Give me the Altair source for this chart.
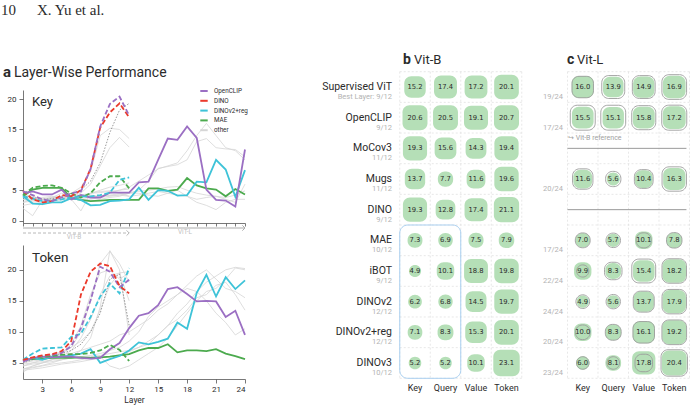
import altair as alt
import pandas as pd

SANS = "Roboto"
NUM_FONT = "DejaVu Sans"
SERIF = "Liberation Serif"
INK = "#2b2b2b"
MUTED = "#b3b3b3"
CELL_FILL = "#b5dfb7"

GROUPS = ["OpenCLIP", "DINO", "DINOv2+reg", "MAE", "other"]
GROUP_COLORS = ["#9b6fc3", "#eb3a2c", "#3ec3d8", "#4caa4e", "#d6d6d6"]

# ---------------- layer-wise curves: Key ----------------
# ViT-B, layers 1-12
key_b_openclip = [4.8, 4.2, 3.5, 3.2, 3.8, 4.5, 4.8, 8.5, 15.5, 19.2, 20.4, 17.3]
key_b_dino = [4.9, 3.5, 3.0, 3.2, 4.2, 4.0, 5.0, 8.5, 15.3, 17.8, 19.3, 17.0]
key_b_dinov2reg = [4.0, 3.6, 3.2, 3.3, 3.5, 3.8, 4.0, 4.0, 4.2, 4.6, 6.7, 7.1]
key_b_mae = [4.2, 5.4, 5.7, 5.8, 5.4, 4.5, 3.8, 4.5, 6.3, 7.3, 7.3, 5.3]
key_b_mocov3 = [4.0, 3.8, 3.5, 3.6, 4.0, 4.5, 5.0, 6.5, 9.5, 14.5, 18.2, 19.3]
key_b_supervised = [2.0, 0.8, 3.3, 3.8, 4.0, 4.5, 5.5, 8.0, 14.0, 15.2, 15.0, 13.5]
key_b_mugs = [3.5, 3.0, 2.6, 3.2, 3.8, 4.0, 4.5, 6.0, 9.0, 12.0, 13.7, 12.1]
key_b_ibot = [3.0, 3.5, 3.8, 4.0, 3.8, 3.5, 1.6, 4.5, 4.8, 4.9, 4.5, 4.0]
key_b_dinov2 = [3.8, 3.5, 3.3, 3.5, 3.8, 3.6, 3.9, 4.5, 5.0, 5.5, 5.8, 6.2]
key_b_dinov3 = [4.2, 4.0, 3.5, 3.8, 4.5, 4.0, 4.2, 4.5, 4.6, 4.8, 5.0, 5.2]
# ViT-L, layers 1-24
key_l_openclip = [4.5, 4.8, 4.3, 4.3, 5.1, 3.5, 4.2, 3.8, 3.8, 4.6, 4.6, 4.6,
                  6.3, 6.4, 10.0, 13.5, 13.3, 15.5, 13.6, 5.1, 3.4, 3.3, 2.3, 11.7]
key_l_dinov2reg = [4.0, 2.8, 2.7, 3.0, 3.0, 3.7, 3.4, 2.5, 2.6, 3.2, 3.3, 3.5,
                   5.4, 3.4, 5.0, 4.9, 4.1, 4.2, 6.4, 6.3, 10.0, 8.4, 3.9, 8.3]
key_l_mae = [4.0, 5.1, 5.4, 5.4, 5.4, 3.7, 3.4, 3.2, 3.3, 3.4, 3.4, 3.4,
             3.4, 5.3, 5.3, 4.9, 5.1, 7.0, 5.8, 5.3, 5.1, 4.0, 5.2, 4.3]
key_l_supervised = [4.0, 3.8, 3.6, 3.8, 4.0, 4.2, 4.0, 3.8, 4.0, 4.5, 5.0, 5.5,
                    6.5, 7.5, 8.5, 9.0, 9.5, 11.5, 14.0, 16.0, 14.0, 12.0, 11.5, 10.0]
key_l_mugs = [3.5, 3.3, 3.0, 3.2, 3.5, 3.8, 3.5, 3.2, 3.5, 3.8, 4.0, 4.5,
              5.0, 6.5, 8.6, 8.9, 9.2, 10.0, 13.0, 13.5, 12.0, 11.8, 11.7, 10.5]
key_l_ibot = [2.5, 2.8, 3.0, 3.2, 3.4, 3.5, 3.6, 3.5, 3.8, 4.0, 4.2, 4.5,
              4.5, 4.2, 4.0, 4.5, 5.0, 4.0, 3.0, 2.5, 1.8, 3.0, 3.5, 3.5]
key_l_dinov2 = [3.0, 3.2, 3.5, 3.4, 3.6, 3.8, 4.0, 4.2, 4.0, 4.2, 4.4, 4.6,
                4.8, 5.0, 5.2, 5.5, 5.6, 5.0, 4.5, 4.2, 4.0, 3.8, 4.2, 4.9]
key_l_dinov3 = [3.8, 3.5, 3.4, 3.6, 3.8, 4.0, 3.8, 3.9, 4.0, 4.1, 4.2, 4.0,
                4.2, 4.5, 4.8, 4.5, 4.2, 4.0, 3.5, 3.8, 4.0, 3.5, 3.0, 6.0]

# ---------------- layer-wise curves: Token ----------------
tok_b_openclip = [5.3, 5.8, 6.1, 6.3, 6.6, 7.7, 10.6, 15.1, 20.5, 19.7, 17.2, 18.4]
tok_b_dino = [5.5, 5.9, 6.2, 6.4, 6.9, 8.5, 16.0, 19.7, 21.0, 20.6, 17.4, 16.2]
tok_b_dinov2reg = [5.5, 6.5, 7.3, 7.4, 7.5, 9.2, 9.7, 12.4, 15.7, 17.8, 16.2, 20.3]
tok_b_mae = [5.5, 5.8, 6.0, 6.1, 6.3, 6.4, 6.4, 6.6, 7.0, 7.9, 7.1, 5.3]
tok_b_mocov3 = [5.0, 5.5, 6.0, 6.2, 6.5, 7.0, 8.0, 10.0, 13.0, 18.5, 19.3, 11.0]
tok_b_supervised = [4.5, 5.0, 5.5, 6.0, 6.5, 7.5, 10.0, 15.0, 21.0, 23.0, 21.0, 18.0]
tok_b_mugs = [4.0, 4.5, 5.0, 5.5, 6.0, 7.0, 9.0, 12.0, 16.0, 19.0, 19.5, 15.0]
tok_b_ibot = [3.5, 4.5, 5.0, 5.5, 6.5, 8.0, 11.0, 16.0, 19.5, 20.0, 18.5, 19.5]
tok_b_dinov2 = [5.5, 5.8, 6.0, 6.3, 6.8, 7.5, 8.5, 10.0, 13.5, 17.5, 19.5, 19.7]
tok_b_dinov3 = [4.0, 4.3, 4.6, 5.0, 5.5, 6.0, 7.0, 9.0, 14.0, 23.1, 20.0, 9.5]
tok_l_openclip = [5.2, 5.8, 6.0, 5.9, 6.0, 6.0, 5.8, 5.7, 5.8, 7.2, 8.2, 10.6,
                  12.6, 13.0, 14.3, 16.9, 17.2, 16.1, 14.9, 15.0, 14.9, 12.4, 13.4, 9.5]
tok_l_dinov2reg = [5.3, 5.8, 5.5, 6.0, 6.0, 6.2, 6.5, 7.2, 5.0, 5.6, 6.1, 7.0,
                   8.3, 8.0, 8.4, 8.9, 11.5, 10.5, 16.3, 19.2, 15.7, 18.8, 16.9, 18.3]
tok_l_mae = [5.5, 5.6, 5.7, 5.8, 5.8, 5.8, 5.9, 5.8, 5.9, 6.0, 6.2, 6.4,
             7.0, 7.4, 7.4, 8.0, 6.7, 7.0, 7.0, 6.9, 7.2, 6.5, 6.1, 5.6]
tok_l_supervised = [4.5, 4.8, 5.0, 5.2, 5.5, 5.8, 6.0, 6.2, 6.5, 7.0, 7.5, 8.5,
                    10.0, 12.5, 14.0, 15.0, 16.0, 17.5, 19.0, 20.0, 18.5, 17.0, 16.5, 15.5]
tok_l_mugs = [4.0, 4.2, 4.5, 4.8, 5.0, 5.2, 5.5, 5.8, 6.0, 4.5, 4.0, 4.5,
              5.5, 6.5, 7.5, 9.0, 11.0, 13.0, 15.0, 16.5, 17.0, 18.5, 20.3, 20.0]
tok_l_ibot = [5.0, 5.3, 5.5, 5.8, 6.0, 6.5, 7.0, 7.5, 8.0, 8.5, 9.5, 10.0,
              11.0, 12.0, 13.5, 14.5, 16.0, 17.0, 16.5, 15.0, 13.0, 11.5, 9.5, 10.5]
tok_l_dinov2 = [4.8, 5.0, 5.2, 5.5, 5.5, 5.8, 6.0, 6.0, 6.2, 6.5, 6.8, 7.0,
                7.5, 8.5, 9.5, 11.0, 12.0, 13.5, 15.5, 16.0, 17.5, 18.0, 16.0, 13.5]
tok_l_dinov3 = [3.8, 4.0, 4.2, 4.5, 4.8, 5.0, 5.2, 5.5, 5.8, 6.0, 6.3, 6.8,
                7.5, 8.0, 9.5, 11.0, 13.0, 14.5, 16.5, 18.0, 19.0, 20.0, 20.4, 20.2]

# ---------------- best-layer scores ----------------
models = ["Supervised ViT", "OpenCLIP", "MoCov3", "Mugs", "DINO",
          "MAE", "iBOT", "DINOv2", "DINOv2+reg", "DINOv3"]
best_b = ["Best Layer: 9/12", "9/12", "11/12", "11/12", "9/12",
          "10/12", "9/12", "12/12", "12/12", "10/12"]
best_l = ["19/24", "17/24", None, "20/24", None,
          "17/24", "22/24", "24/24", "20/24", "23/24"]
metrics = ["Key", "Query", "Value", "Token"]
vitb_scores = [
    [15.2, 17.4, 17.2, 20.1], [20.6, 20.5, 19.1, 20.7], [19.3, 15.6, 14.3, 19.4],
    [13.7, 7.7, 11.6, 19.6], [19.3, 12.8, 17.4, 21.1], [7.3, 6.9, 7.5, 7.9],
    [4.9, 10.1, 18.8, 19.8], [6.2, 6.8, 14.5, 19.7], [7.1, 8.3, 15.3, 20.1],
    [5.2, 5.2, 10.1, 23.1],
]
vitl_scores = [
    [16.0, 13.9, 14.9, 16.9], [15.5, 15.1, 15.8, 17.2], None,
    [11.6, 5.6, 10.4, 16.3], None, [7.0, 5.7, 10.1, 7.8],
    [9.9, 8.3, 15.4, 18.2], [4.9, 5.6, 13.7, 17.9], [10.0, 8.3, 16.1, 19.2],
    [6.0, 8.1, 17.8, 20.4],
]
b_cols = [0, 1, 2, 3]
c_cols = [5.5, 6.5, 7.5, 8.5]
arch_layers = {"ViT-B": 12, "ViT-L": 24}


def curves(arch, pairs):
    rows = []
    for model, values in pairs:
        group = model if model in GROUPS else "other"
        for layer, v in enumerate(values, start=1):
            rows.append(dict(layer=layer, value=v, model=model,
                             series=f"{model} {arch}", group=group))
    return pd.DataFrame(rows)


COLOR_SCALE = alt.Scale(domain=GROUPS, range=GROUP_COLORS)
LEGEND = alt.Legend(title=None, orient="none", legendX=199, legendY=86,
                    symbolType="stroke", symbolStrokeWidth=2, symbolSize=55,
                    labelFontSize=6.3, labelFont=SANS, labelColor=INK,
                    rowPadding=0.8, labelOffset=5, padding=0)


def label(text, x, y, size, color=INK, font=SANS, weight="normal",
          align="left", baseline="alphabetic"):
    return alt.Chart(pd.DataFrame({"t": [text]})).mark_text(
        font=font, fontSize=size, fontWeight=weight, color=color,
        align=align, baseline=baseline,
    ).encode(text="t:N", x=alt.value(x), y=alt.value(y))


def curve_panel(x_scale, x_axis, y_scale, y_axis, hi_b, hi_l, other, dotted, extras):
    def X(f):
        return alt.X(f, type="quantitative", scale=x_scale, axis=x_axis)
    Y = alt.Y("value:Q", scale=y_scale, axis=y_axis)
    C = alt.Color("group:N", scale=COLOR_SCALE, legend=LEGEND)
    thin = alt.Chart(other).mark_line(strokeWidth=0.8).encode(
        x=X("layer"), y=Y, color=C, detail="series:N")
    dot = alt.Chart(dotted).mark_line(strokeWidth=0.9, strokeDash=[1.5, 1.5],
                                      color="#8c8c8c").encode(
        x=X("layer"), y=Y, detail="series:N")
    solid = alt.Chart(hi_l).mark_line(strokeWidth=1.8).encode(
        x=X("layer"), y=Y, color=C, detail="series:N")
    dashed = alt.Chart(hi_b).mark_line(strokeWidth=1.8, strokeDash=[5, 2.5]).encode(
        x=X("layer"), y=Y, color=C, detail="series:N")
    return alt.layer(thin, dot, solid, dashed, *[e(X) for e in extras])


# ---------------- panel a: Key ----------------
KEY_X = alt.Scale(domain=[1, 24], range=[23, 245], nice=False, zero=False)
KEY_X_AXIS = alt.Axis(orient="bottom", offset=-186, values=list(range(1, 25)),
                      labels=False, tickSize=3, title=None, grid=False)
KEY_Y = alt.Scale(domain=[-0.4, 21.5], range=[223, 90], nice=False, zero=False)
KEY_Y_AXIS = alt.Axis(orient="left", offset=-23, values=[0, 5, 10, 15, 20],
                      tickSize=4, labelPadding=3, title=None, grid=False)

key_other = pd.concat([
    curves("ViT-B", [("Supervised ViT", key_b_supervised), ("Mugs", key_b_mugs),
                     ("iBOT", key_b_ibot), ("DINOv2", key_b_dinov2), ("DINOv3", key_b_dinov3)]),
    curves("ViT-L", [("Supervised ViT", key_l_supervised), ("Mugs", key_l_mugs),
                     ("iBOT", key_l_ibot), ("DINOv2", key_l_dinov2), ("DINOv3", key_l_dinov3)]),
])
key_dotted = curves("ViT-B", [("MoCov3", key_b_mocov3)])
key_hi_b = curves("ViT-B", [("MAE", key_b_mae), ("DINOv2+reg", key_b_dinov2reg),
                            ("DINO", key_b_dino), ("OpenCLIP", key_b_openclip)])
key_hi_l = curves("ViT-L", [("MAE", key_l_mae), ("DINOv2+reg", key_l_dinov2reg),
                            ("OpenCLIP", key_l_openclip)])

spans = pd.DataFrame({"arch": list(arch_layers), "first": 1,
                      "last": list(arch_layers.values())})


def arrow_l(X):
    d = spans[spans.arch == "ViT-L"]
    line = alt.Chart(d).mark_rule(color="#ababab", strokeWidth=1).encode(
        x=X("first"), x2="last:Q", y=alt.value(228))
    head = alt.Chart(d).mark_point(shape="M-1,-1L0,0L-1,1", filled=False, size=28,
                                   color="#ababab", strokeWidth=1, opacity=1).encode(
        x=X("last"), y=alt.value(228))
    return alt.layer(line, head)


def arrow_b(X):
    d = spans[spans.arch == "ViT-B"]
    line = alt.Chart(d).mark_rule(color="#b8b8b8", strokeWidth=1, strokeDash=[3, 2]).encode(
        x=X("first"), x2="last:Q", y=alt.value(233))
    head = alt.Chart(d).mark_point(shape="M-1,-1L0,0L-1,1", filled=False, size=28,
                                   color="#b8b8b8", strokeWidth=1, opacity=1).encode(
        x=X("last"), y=alt.value(233))
    return alt.layer(line, head)


key_panel = curve_panel(KEY_X, KEY_X_AXIS, KEY_Y, KEY_Y_AXIS,
                        key_hi_b, key_hi_l, key_other, key_dotted, [arrow_l, arrow_b])

# ---------------- panel a: Token ----------------
TOK_X = alt.Scale(domain=[1, 24], range=[23, 245], nice=False, zero=False)
TOK_X_AXIS = alt.Axis(orient="bottom", offset=-30, values=list(range(3, 25, 3)),
                      tickSize=4, labelPadding=2, title="Layer", titlePadding=2,
                      titleFontSize=8.5, titleFontWeight="normal", grid=False)
TOK_Y = alt.Scale(domain=[2.4, 24], range=[379, 245], nice=False, zero=False)
TOK_Y_AXIS = alt.Axis(orient="left", offset=-23, values=[5, 10, 15, 20],
                      tickSize=4, labelPadding=3, title=None, grid=False)

tok_other = pd.concat([
    curves("ViT-B", [("Supervised ViT", tok_b_supervised), ("Mugs", tok_b_mugs),
                     ("iBOT", tok_b_ibot), ("DINOv2", tok_b_dinov2), ("DINOv3", tok_b_dinov3)]),
    curves("ViT-L", [("Supervised ViT", tok_l_supervised), ("Mugs", tok_l_mugs),
                     ("iBOT", tok_l_ibot), ("DINOv2", tok_l_dinov2), ("DINOv3", tok_l_dinov3)]),
])
tok_dotted = curves("ViT-B", [("MoCov3", tok_b_mocov3)])
tok_hi_b = curves("ViT-B", [("MAE", tok_b_mae), ("DINOv2+reg", tok_b_dinov2reg),
                            ("OpenCLIP", tok_b_openclip), ("DINO", tok_b_dino)])
tok_hi_l = curves("ViT-L", [("MAE", tok_l_mae), ("DINOv2+reg", tok_l_dinov2reg),
                            ("OpenCLIP", tok_l_openclip)])

token_panel = curve_panel(TOK_X, TOK_X_AXIS, TOK_Y, TOK_Y_AXIS,
                          tok_hi_b, tok_hi_l, tok_other, tok_dotted, [])

# ---------------- panels b and c: score tables ----------------
BC_X = alt.Scale(domain=[-0.5, 9.0], range=[399.75, 689.5], nice=False, zero=False)
BC_Y = alt.Scale(domain=[-0.5, 9.5], range=[71.7, 378.3], nice=False, zero=False)


def BX(f):
    return alt.X(f, type="quantitative", scale=BC_X, axis=None)


def BY(f):
    return alt.Y(f, type="quantitative", scale=BC_Y, axis=None)


cells_b, cells_c = [], []
for r, m in enumerate(models):
    for j, met in enumerate(metrics):
        cells_b.append(dict(model=m, row=r, metric=met, col=b_cols[j], value=vitb_scores[r][j]))
        if vitl_scores[r] is not None:
            cells_c.append(dict(model=m, row=r, metric=met, col=c_cols[j],
                                value=vitl_scores[r][j], ref=vitb_scores[r][j]))
cells_b = pd.DataFrame(cells_b)
cells_c = pd.DataFrame(cells_c)

# square side grows with sqrt(score); 5.5 px per sqrt-unit, cell pitch ~30.6 px
KX = 5.5 / 2 / 30.5
KY = 5.5 / 2 / 30.66


def boxes(df, field, **mark):
    return alt.Chart(df).transform_calculate(
        x0=f"datum.col - {KX}*sqrt(datum.{field})",
        x1=f"datum.col + {KX}*sqrt(datum.{field})",
        y0=f"datum.row - {KY}*sqrt(datum.{field})",
        y1=f"datum.row + {KY}*sqrt(datum.{field})",
    ).mark_rect(cornerRadius=7, **mark).encode(
        x=BX("x0"), x2="x1:Q", y=BY("y0"), y2="y1:Q")


def values_text(df):
    return alt.Chart(df).mark_text(font=NUM_FONT, fontSize=6.8, color=INK).encode(
        x=BX("col"), y=BY("row"), text=alt.Text("value:Q", format=".1f"))


n = len(models)
v_lines = [c - 0.5 for c in b_cols] + [b_cols[-1] + 0.5] + \
          [c - 0.5 for c in c_cols] + [c_cols[-1] + 0.5]
grid_v = pd.DataFrame({"bx": v_lines, "top": -0.5, "bottom": n - 0.5})
grid_h = pd.DataFrame(
    [dict(by=r - 0.5, left=b_cols[0] - 0.5, right=b_cols[-1] + 0.5) for r in range(n + 1)] +
    [dict(by=r - 0.5, left=c_cols[0] - 0.5, right=c_cols[-1] + 0.5) for r in range(n + 1)])
grid = alt.layer(
    alt.Chart(grid_v).mark_rule(color="#dedede", strokeWidth=0.7, strokeDash=[2, 2]).encode(
        x=BX("bx"), y=BY("top"), y2="bottom:Q"),
    alt.Chart(grid_h).mark_rule(color="#dedede", strokeWidth=0.7, strokeDash=[2, 2]).encode(
        y=BY("by"), x=BX("left"), x2="right:Q"),
)

highlight = alt.Chart(pd.DataFrame({
    "left": [b_cols[0] - 0.5], "right": [b_cols[1] + 0.5],
    "top": [models.index("MAE") - 0.5], "bottom": [n - 0.5]})
).mark_rect(fillOpacity=0, stroke="#a9cff0", strokeWidth=1, cornerRadius=8).encode(
    x=BX("left"), x2="right:Q", y=BY("top"), y2="bottom:Q")

missing = pd.DataFrame([dict(row=r, left=c_cols[0] - 0.5, right=c_cols[-1] + 0.4)
                        for r, s in enumerate(vitl_scores) if s is None])
missing_rules = alt.Chart(missing).mark_rule(color="#9a9a9a", strokeWidth=1).encode(
    y=BY("row"), x=BX("left"), x2="right:Q")

row_info = pd.DataFrame({"model": models, "row": range(n), "best_b": best_b,
                         "best_l": [b if b else "" for b in best_l]})
names = alt.Chart(row_info).mark_text(align="right", baseline="middle", font=SANS,
                                      fontSize=10.5, color=INK).encode(
    x=alt.value(392), y=BY("row"), text="model:N")
names_sub = alt.Chart(row_info).mark_text(align="right", baseline="middle", font=SANS,
                                          fontSize=7.5, color=MUTED, dy=10).encode(
    x=alt.value(392), y=BY("row"), text="best_b:N")
l_sub = alt.Chart(row_info).mark_text(align="right", baseline="middle", font=SANS,
                                      fontSize=7.5, color=MUTED, dy=10).encode(
    x=alt.value(563), y=BY("row"), text="best_l:N")

col_info = pd.DataFrame({"metric": metrics * 2, "col": b_cols + c_cols})
col_labels = alt.Chart(col_info).mark_text(baseline="middle", font=SANS, fontSize=9,
                                           color=INK).encode(
    x=BX("col"), y=alt.value(388), text="metric:N")

table_panel = alt.layer(
    grid, highlight, missing_rules,
    boxes(cells_b, "value", color=CELL_FILL),
    boxes(cells_c, "value", color=CELL_FILL),
    boxes(cells_c, "ref", fillOpacity=0, stroke="#9c9c9c", strokeWidth=0.9),
    values_text(cells_b), values_text(cells_c),
    names, names_sub, l_sub, col_labels,
)

# ---------------- titles and annotations ----------------
texts = [
    label("10", 1, 15, 15, font=SERIF),
    label("X. Yu et al.", 37, 15, 15, font=SERIF),
    label("a", 3, 77, 15, weight="bold"),
    label("Layer-Wise Performance", 14, 77, 14),
    label("Key", 32, 106, 13),
    label("Token", 32, 262, 13.5),
    label("ViT-L", 185, 232, 6.5, color="#c2c2c2", align="center", baseline="middle"),
    label("ViT-B", 74, 236.5, 6.5, color="#c2c2c2", align="center", baseline="middle"),
    label("b", 403, 64, 14, weight="bold"),
    label("Vit-B", 414, 64, 13),
    label("c", 567, 64, 14, weight="bold"),
    label("Vit-L", 577, 64, 13),
    label("\u21aa Vit-B reference", 568, 138, 7, color="#a0a0a0", baseline="middle"),
]

chart = alt.layer(key_panel, token_panel, table_panel, *texts).resolve_scale(
    x="independent", y="independent"
).properties(
    width=696, height=409, padding=0, autosize=alt.AutoSizeParams(type="none"),
    background="white",
).configure_view(stroke=None).configure_axis(
    labelFont=SANS, titleFont=SANS, labelFontSize=8, labelColor=INK, titleColor=INK,
    domainColor="#555", tickColor="#555", domainWidth=0.8, tickWidth=0.8, grid=False,
)

chart.save("out.html", embed_options={"renderer": "svg", "actions": False})
